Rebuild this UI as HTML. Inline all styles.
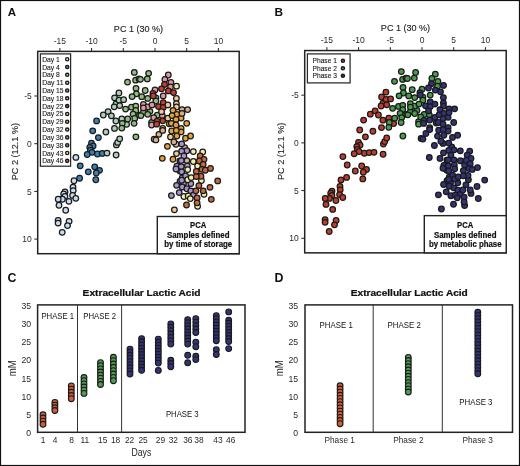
<!DOCTYPE html>
<html><head><meta charset="utf-8"><style>
html,body{margin:0;padding:0;background:#fff;}
svg{display:block;will-change:transform;}
</style></head><body>
<svg width="520" height="466" viewBox="0 0 520 466">
<rect width="520" height="466" fill="#fff"/>
<rect x="0.5" y="0.5" width="519" height="465" fill="none" stroke="#111" stroke-width="1.2"/>
<text x="7.8" y="16.2" font-family="Liberation Sans, sans-serif" font-size="11.5" font-weight="700" fill="#111">A</text>
<text x="274.6" y="16.3" font-family="Liberation Sans, sans-serif" font-size="11.8" font-weight="700" fill="#111">B</text>
<text x="7.4" y="281.5" font-family="Liberation Sans, sans-serif" font-size="12.4" font-weight="700" fill="#111">C</text>
<text x="274.4" y="281.5" font-family="Liberation Sans, sans-serif" font-size="12.4" font-weight="700" fill="#111">D</text>
<g transform="translate(0,0)">
<rect x="37.7" y="51.4" width="201.5" height="202.29999999999998" fill="none" stroke="#222" stroke-width="1.5"/>
<line x1="59.90" y1="48.0" x2="59.90" y2="51.4" stroke="#222" stroke-width="1"/>
<text transform="translate(59.90,44.20) scale(1,1.1)" text-anchor="middle" font-family="Liberation Sans, sans-serif" font-size="8.5" fill="#2a2a2a" >-15</text>
<line x1="91.60" y1="48.0" x2="91.60" y2="51.4" stroke="#222" stroke-width="1"/>
<text transform="translate(91.60,44.20) scale(1,1.1)" text-anchor="middle" font-family="Liberation Sans, sans-serif" font-size="8.5" fill="#2a2a2a" >-10</text>
<line x1="123.30" y1="48.0" x2="123.30" y2="51.4" stroke="#222" stroke-width="1"/>
<text transform="translate(123.30,44.20) scale(1,1.1)" text-anchor="middle" font-family="Liberation Sans, sans-serif" font-size="8.5" fill="#2a2a2a" >-5</text>
<line x1="155.00" y1="48.0" x2="155.00" y2="51.4" stroke="#222" stroke-width="1"/>
<text transform="translate(155.00,44.20) scale(1,1.1)" text-anchor="middle" font-family="Liberation Sans, sans-serif" font-size="8.5" fill="#2a2a2a" >0</text>
<line x1="186.70" y1="48.0" x2="186.70" y2="51.4" stroke="#222" stroke-width="1"/>
<text transform="translate(186.70,44.20) scale(1,1.1)" text-anchor="middle" font-family="Liberation Sans, sans-serif" font-size="8.5" fill="#2a2a2a" >5</text>
<line x1="218.40" y1="48.0" x2="218.40" y2="51.4" stroke="#222" stroke-width="1"/>
<text transform="translate(218.40,44.20) scale(1,1.1)" text-anchor="middle" font-family="Liberation Sans, sans-serif" font-size="8.5" fill="#2a2a2a" >10</text>
<text x="138.5" y="31.7" text-anchor="middle" font-family="Liberation Sans, sans-serif" font-size="9.3" textLength="49.3" lengthAdjust="spacingAndGlyphs" fill="#222" stroke="#222" stroke-width="0.12">PC 1 (30 %)</text>
<line x1="34.300000000000004" y1="96.00" x2="37.7" y2="96.00" stroke="#222" stroke-width="1"/>
<text transform="translate(31.80,99.10) scale(1,1.08)" text-anchor="end" font-family="Liberation Sans, sans-serif" font-size="8.5" fill="#2a2a2a" >-5</text>
<line x1="34.300000000000004" y1="143.70" x2="37.7" y2="143.70" stroke="#222" stroke-width="1"/>
<text transform="translate(31.80,146.80) scale(1,1.08)" text-anchor="end" font-family="Liberation Sans, sans-serif" font-size="8.5" fill="#2a2a2a" >0</text>
<line x1="34.300000000000004" y1="191.40" x2="37.7" y2="191.40" stroke="#222" stroke-width="1"/>
<text transform="translate(31.80,194.50) scale(1,1.08)" text-anchor="end" font-family="Liberation Sans, sans-serif" font-size="8.5" fill="#2a2a2a" >5</text>
<line x1="34.300000000000004" y1="239.10" x2="37.7" y2="239.10" stroke="#222" stroke-width="1"/>
<text transform="translate(31.80,242.20) scale(1,1.08)" text-anchor="end" font-family="Liberation Sans, sans-serif" font-size="8.5" fill="#2a2a2a" >10</text>
<text transform="translate(18.2,151.6) rotate(-90)" text-anchor="middle" font-family="Liberation Sans, sans-serif" font-size="9.3" textLength="57.5" lengthAdjust="spacingAndGlyphs" fill="#222" stroke="#222" stroke-width="0.12">PC 2 (12.1 %)</text>
<rect x="157.3" y="216.5" width="81.89999999999998" height="37.19999999999999" fill="#fff" stroke="#222" stroke-width="1.4"/>
<text transform="translate(190.10,228.30) scale(1,1.08)" font-family="Liberation Sans, sans-serif" font-size="8.2" font-weight="700" textLength="16.3" lengthAdjust="spacingAndGlyphs" fill="#111" stroke="#111" stroke-width="0.2">PCA</text>
<text transform="translate(166.95,237.80) scale(1,1.08)" font-family="Liberation Sans, sans-serif" font-size="8.2" font-weight="700" textLength="62.6" lengthAdjust="spacingAndGlyphs" fill="#111" stroke="#111" stroke-width="0.2">Samples defined</text>
<text transform="translate(164.25,247.30) scale(1,1.08)" font-family="Liberation Sans, sans-serif" font-size="8.2" font-weight="700" textLength="68.0" lengthAdjust="spacingAndGlyphs" fill="#111" stroke="#111" stroke-width="0.2">by time of storage</text>
</g>
<g transform="translate(0,-0.85)">
<rect x="304.7" y="51.4" width="201.5" height="202.29999999999998" fill="none" stroke="#222" stroke-width="1.5"/>
<line x1="326.90" y1="48.0" x2="326.90" y2="51.4" stroke="#222" stroke-width="1"/>
<text transform="translate(326.90,44.20) scale(1,1.1)" text-anchor="middle" font-family="Liberation Sans, sans-serif" font-size="8.5" fill="#2a2a2a" >-15</text>
<line x1="358.60" y1="48.0" x2="358.60" y2="51.4" stroke="#222" stroke-width="1"/>
<text transform="translate(358.60,44.20) scale(1,1.1)" text-anchor="middle" font-family="Liberation Sans, sans-serif" font-size="8.5" fill="#2a2a2a" >-10</text>
<line x1="390.30" y1="48.0" x2="390.30" y2="51.4" stroke="#222" stroke-width="1"/>
<text transform="translate(390.30,44.20) scale(1,1.1)" text-anchor="middle" font-family="Liberation Sans, sans-serif" font-size="8.5" fill="#2a2a2a" >-5</text>
<line x1="422.00" y1="48.0" x2="422.00" y2="51.4" stroke="#222" stroke-width="1"/>
<text transform="translate(422.00,44.20) scale(1,1.1)" text-anchor="middle" font-family="Liberation Sans, sans-serif" font-size="8.5" fill="#2a2a2a" >0</text>
<line x1="453.70" y1="48.0" x2="453.70" y2="51.4" stroke="#222" stroke-width="1"/>
<text transform="translate(453.70,44.20) scale(1,1.1)" text-anchor="middle" font-family="Liberation Sans, sans-serif" font-size="8.5" fill="#2a2a2a" >5</text>
<line x1="485.40" y1="48.0" x2="485.40" y2="51.4" stroke="#222" stroke-width="1"/>
<text transform="translate(485.40,44.20) scale(1,1.1)" text-anchor="middle" font-family="Liberation Sans, sans-serif" font-size="8.5" fill="#2a2a2a" >10</text>
<text x="405.5" y="31.7" text-anchor="middle" font-family="Liberation Sans, sans-serif" font-size="9.3" textLength="49.3" lengthAdjust="spacingAndGlyphs" fill="#222" stroke="#222" stroke-width="0.12">PC 1 (30 %)</text>
<line x1="301.3" y1="96.00" x2="304.7" y2="96.00" stroke="#222" stroke-width="1"/>
<text transform="translate(298.80,99.10) scale(1,1.08)" text-anchor="end" font-family="Liberation Sans, sans-serif" font-size="8.5" fill="#2a2a2a" >-5</text>
<line x1="301.3" y1="143.70" x2="304.7" y2="143.70" stroke="#222" stroke-width="1"/>
<text transform="translate(298.80,146.80) scale(1,1.08)" text-anchor="end" font-family="Liberation Sans, sans-serif" font-size="8.5" fill="#2a2a2a" >0</text>
<line x1="301.3" y1="191.40" x2="304.7" y2="191.40" stroke="#222" stroke-width="1"/>
<text transform="translate(298.80,194.50) scale(1,1.08)" text-anchor="end" font-family="Liberation Sans, sans-serif" font-size="8.5" fill="#2a2a2a" >5</text>
<line x1="301.3" y1="239.10" x2="304.7" y2="239.10" stroke="#222" stroke-width="1"/>
<text transform="translate(298.80,242.20) scale(1,1.08)" text-anchor="end" font-family="Liberation Sans, sans-serif" font-size="8.5" fill="#2a2a2a" >10</text>
<text transform="translate(284.0,152.2) rotate(-90)" text-anchor="middle" font-family="Liberation Sans, sans-serif" font-size="9.3" textLength="57.5" lengthAdjust="spacingAndGlyphs" fill="#222" stroke="#222" stroke-width="0.12">PC 2 (12.1 %)</text>
<rect x="424.3" y="216.5" width="81.89999999999998" height="37.19999999999999" fill="#fff" stroke="#222" stroke-width="1.4"/>
<text transform="translate(457.10,228.90) scale(1,1.08)" font-family="Liberation Sans, sans-serif" font-size="8.2" font-weight="700" textLength="16.3" lengthAdjust="spacingAndGlyphs" fill="#111" stroke="#111" stroke-width="0.2">PCA</text>
<text transform="translate(433.95,238.40) scale(1,1.08)" font-family="Liberation Sans, sans-serif" font-size="8.2" font-weight="700" textLength="62.6" lengthAdjust="spacingAndGlyphs" fill="#111" stroke="#111" stroke-width="0.2">Samples defined</text>
<text transform="translate(428.90,247.90) scale(1,1.08)" font-family="Liberation Sans, sans-serif" font-size="8.2" font-weight="700" textLength="72.7" lengthAdjust="spacingAndGlyphs" fill="#111" stroke="#111" stroke-width="0.2">by metabolic phase</text>
</g>
<rect x="37.6" y="304.9" width="207.4" height="127.40000000000003" fill="none" stroke="#222" stroke-width="1.5"/>
<text transform="translate(31.20,436.10) scale(1,1.08)" text-anchor="end" font-family="Liberation Sans, sans-serif" font-size="8.7" fill="#2a2a2a" >0</text>
<text transform="translate(31.20,417.93) scale(1,1.08)" text-anchor="end" font-family="Liberation Sans, sans-serif" font-size="8.7" fill="#2a2a2a" >5</text>
<text transform="translate(31.20,399.76) scale(1,1.08)" text-anchor="end" font-family="Liberation Sans, sans-serif" font-size="8.7" fill="#2a2a2a" >10</text>
<text transform="translate(31.20,381.59) scale(1,1.08)" text-anchor="end" font-family="Liberation Sans, sans-serif" font-size="8.7" fill="#2a2a2a" >15</text>
<text transform="translate(31.20,363.42) scale(1,1.08)" text-anchor="end" font-family="Liberation Sans, sans-serif" font-size="8.7" fill="#2a2a2a" >20</text>
<text transform="translate(31.20,345.25) scale(1,1.08)" text-anchor="end" font-family="Liberation Sans, sans-serif" font-size="8.7" fill="#2a2a2a" >25</text>
<text transform="translate(31.20,327.08) scale(1,1.08)" text-anchor="end" font-family="Liberation Sans, sans-serif" font-size="8.7" fill="#2a2a2a" >30</text>
<text transform="translate(31.20,308.91) scale(1,1.08)" text-anchor="end" font-family="Liberation Sans, sans-serif" font-size="8.7" fill="#2a2a2a" >35</text>
<text x="82.6" y="295.8" font-family="Liberation Sans, sans-serif" font-size="9.4" font-weight="700" textLength="118" lengthAdjust="spacingAndGlyphs" fill="#111" stroke="#111" stroke-width="0.22">Extracellular Lactic Acid</text>
<text transform="translate(16.0,368.3) rotate(-90) scale(1.05,1.12)" text-anchor="middle" font-family="Liberation Sans, sans-serif" font-size="9.2" fill="#222">mM</text>
<rect x="305.0" y="304.9" width="207.5" height="127.40000000000003" fill="none" stroke="#222" stroke-width="1.5"/>
<text transform="translate(298.20,436.10) scale(1,1.08)" text-anchor="end" font-family="Liberation Sans, sans-serif" font-size="8.7" fill="#2a2a2a" >0</text>
<text transform="translate(298.20,417.93) scale(1,1.08)" text-anchor="end" font-family="Liberation Sans, sans-serif" font-size="8.7" fill="#2a2a2a" >5</text>
<text transform="translate(298.20,399.76) scale(1,1.08)" text-anchor="end" font-family="Liberation Sans, sans-serif" font-size="8.7" fill="#2a2a2a" >10</text>
<text transform="translate(298.20,381.59) scale(1,1.08)" text-anchor="end" font-family="Liberation Sans, sans-serif" font-size="8.7" fill="#2a2a2a" >15</text>
<text transform="translate(298.20,363.42) scale(1,1.08)" text-anchor="end" font-family="Liberation Sans, sans-serif" font-size="8.7" fill="#2a2a2a" >20</text>
<text transform="translate(298.20,345.25) scale(1,1.08)" text-anchor="end" font-family="Liberation Sans, sans-serif" font-size="8.7" fill="#2a2a2a" >25</text>
<text transform="translate(298.20,327.08) scale(1,1.08)" text-anchor="end" font-family="Liberation Sans, sans-serif" font-size="8.7" fill="#2a2a2a" >30</text>
<text transform="translate(298.20,308.91) scale(1,1.08)" text-anchor="end" font-family="Liberation Sans, sans-serif" font-size="8.7" fill="#2a2a2a" >35</text>
<text x="350.8" y="295.8" font-family="Liberation Sans, sans-serif" font-size="9.4" font-weight="700" textLength="117" lengthAdjust="spacingAndGlyphs" fill="#111" stroke="#111" stroke-width="0.22">Extracellular Lactic Acid</text>
<text transform="translate(283.0,368.3) rotate(-90) scale(1.05,1.12)" text-anchor="middle" font-family="Liberation Sans, sans-serif" font-size="9.2" fill="#222">mM</text>
<line x1="77.5" y1="304.9" x2="77.5" y2="432.3" stroke="#333" stroke-width="1"/>
<line x1="121.6" y1="304.9" x2="121.6" y2="432.3" stroke="#333" stroke-width="1"/>
<text x="57.8" y="319.2" text-anchor="middle" font-family="Liberation Sans, sans-serif" font-size="8.3" textLength="32.8" lengthAdjust="spacingAndGlyphs" fill="#111">PHASE 1</text>
<text x="99.7" y="319.2" text-anchor="middle" font-family="Liberation Sans, sans-serif" font-size="8.3" textLength="32.8" lengthAdjust="spacingAndGlyphs" fill="#111">PHASE 2</text>
<text x="182.3" y="416.6" text-anchor="middle" font-family="Liberation Sans, sans-serif" font-size="8.3" textLength="32.8" lengthAdjust="spacingAndGlyphs" fill="#111">PHASE 3</text>
<text transform="translate(43.20,443.00) scale(1,1.1)" text-anchor="middle" font-family="Liberation Sans, sans-serif" font-size="8.4" fill="#2a2a2a" >1</text>
<text transform="translate(55.20,443.00) scale(1,1.1)" text-anchor="middle" font-family="Liberation Sans, sans-serif" font-size="8.4" fill="#2a2a2a" >4</text>
<text transform="translate(71.70,443.00) scale(1,1.1)" text-anchor="middle" font-family="Liberation Sans, sans-serif" font-size="8.4" fill="#2a2a2a" >8</text>
<text transform="translate(84.80,443.00) scale(1,1.1)" text-anchor="middle" font-family="Liberation Sans, sans-serif" font-size="8.4" fill="#2a2a2a" >11</text>
<text transform="translate(102.70,443.00) scale(1,1.1)" text-anchor="middle" font-family="Liberation Sans, sans-serif" font-size="8.4" fill="#2a2a2a" >15</text>
<text transform="translate(115.60,443.00) scale(1,1.1)" text-anchor="middle" font-family="Liberation Sans, sans-serif" font-size="8.4" fill="#2a2a2a" >18</text>
<text transform="translate(129.60,443.00) scale(1,1.1)" text-anchor="middle" font-family="Liberation Sans, sans-serif" font-size="8.4" fill="#2a2a2a" >22</text>
<text transform="translate(143.10,443.00) scale(1,1.1)" text-anchor="middle" font-family="Liberation Sans, sans-serif" font-size="8.4" fill="#2a2a2a" >25</text>
<text transform="translate(160.40,443.00) scale(1,1.1)" text-anchor="middle" font-family="Liberation Sans, sans-serif" font-size="8.4" fill="#2a2a2a" >29</text>
<text transform="translate(173.30,443.00) scale(1,1.1)" text-anchor="middle" font-family="Liberation Sans, sans-serif" font-size="8.4" fill="#2a2a2a" >32</text>
<text transform="translate(187.80,443.00) scale(1,1.1)" text-anchor="middle" font-family="Liberation Sans, sans-serif" font-size="8.4" fill="#2a2a2a" >36</text>
<text transform="translate(199.00,443.00) scale(1,1.1)" text-anchor="middle" font-family="Liberation Sans, sans-serif" font-size="8.4" fill="#2a2a2a" >38</text>
<text transform="translate(218.00,443.00) scale(1,1.1)" text-anchor="middle" font-family="Liberation Sans, sans-serif" font-size="8.4" fill="#2a2a2a" >43</text>
<text transform="translate(230.70,443.00) scale(1,1.1)" text-anchor="middle" font-family="Liberation Sans, sans-serif" font-size="8.4" fill="#2a2a2a" >46</text>
<text transform="translate(141.40,456.40) scale(1,1.17)" text-anchor="middle" font-family="Liberation Sans, sans-serif" font-size="8.7" fill="#222" >Days</text>
<line x1="373.2" y1="304.9" x2="373.2" y2="432.3" stroke="#333" stroke-width="1"/>
<line x1="442.3" y1="304.9" x2="442.3" y2="432.3" stroke="#333" stroke-width="1"/>
<text x="336.2" y="328.2" text-anchor="middle" font-family="Liberation Sans, sans-serif" font-size="8.3" textLength="33.2" lengthAdjust="spacingAndGlyphs" fill="#111">PHASE 1</text>
<text x="404.2" y="328.2" text-anchor="middle" font-family="Liberation Sans, sans-serif" font-size="8.3" textLength="33.2" lengthAdjust="spacingAndGlyphs" fill="#111">PHASE 2</text>
<text x="475.9" y="404.5" text-anchor="middle" font-family="Liberation Sans, sans-serif" font-size="8.3" textLength="33.2" lengthAdjust="spacingAndGlyphs" fill="#111">PHASE 3</text>
<text transform="translate(339.70,442.90) scale(1,1.1)" text-anchor="middle" font-family="Liberation Sans, sans-serif" font-size="8.3" fill="#2a2a2a" >Phase 1</text>
<text transform="translate(408.40,442.90) scale(1,1.1)" text-anchor="middle" font-family="Liberation Sans, sans-serif" font-size="8.3" fill="#2a2a2a" >Phase 2</text>
<text transform="translate(477.60,442.90) scale(1,1.1)" text-anchor="middle" font-family="Liberation Sans, sans-serif" font-size="8.3" fill="#2a2a2a" >Phase 3</text>
<g stroke="#1a1a1a" stroke-width="1.25">
<circle cx="74.0" cy="180.7" r="2.8" fill="#cadcf0"/>
<circle cx="73.0" cy="187.2" r="2.8" fill="#cadcf0"/>
<circle cx="73.2" cy="190.6" r="2.8" fill="#cadcf0"/>
<circle cx="65.0" cy="191.9" r="2.8" fill="#cadcf0"/>
<circle cx="63.7" cy="194.0" r="2.8" fill="#cadcf0"/>
<circle cx="72.6" cy="195.4" r="2.8" fill="#cadcf0"/>
<circle cx="75.8" cy="198.3" r="2.8" fill="#cadcf0"/>
<circle cx="64.9" cy="196.3" r="2.8" fill="#cadcf0"/>
<circle cx="62.4" cy="199.2" r="2.8" fill="#cadcf0"/>
<circle cx="58.2" cy="199.2" r="2.8" fill="#cadcf0"/>
<circle cx="68.9" cy="201.3" r="2.8" fill="#cadcf0"/>
<circle cx="59.0" cy="205.2" r="2.8" fill="#cadcf0"/>
<circle cx="65.7" cy="210.2" r="2.8" fill="#cadcf0"/>
<circle cx="58.1" cy="220.5" r="2.8" fill="#cadcf0"/>
<circle cx="58.1" cy="223.1" r="2.8" fill="#cadcf0"/>
<circle cx="69.1" cy="221.3" r="2.8" fill="#cadcf0"/>
<circle cx="67.5" cy="225.6" r="2.8" fill="#cadcf0"/>
<circle cx="62.2" cy="232.3" r="2.8" fill="#cadcf0"/>
<circle cx="75.9" cy="157.4" r="2.8" fill="#cadcf0"/>
<circle cx="79.6" cy="178.2" r="2.8" fill="#3b82b4"/>
<circle cx="88.3" cy="171.8" r="2.8" fill="#3b82b4"/>
<circle cx="91.5" cy="143.2" r="2.8" fill="#3b82b4"/>
<circle cx="93.1" cy="145.9" r="2.8" fill="#3b82b4"/>
<circle cx="89.8" cy="147.5" r="2.8" fill="#3b82b4"/>
<circle cx="90.4" cy="150.2" r="2.8" fill="#3b82b4"/>
<circle cx="92.0" cy="152.3" r="2.8" fill="#3b82b4"/>
<circle cx="87.2" cy="154.5" r="2.8" fill="#3b82b4"/>
<circle cx="97.4" cy="154.0" r="2.8" fill="#3b82b4"/>
<circle cx="102.2" cy="153.4" r="2.8" fill="#3b82b4"/>
<circle cx="80.2" cy="165.8" r="2.8" fill="#3b82b4"/>
<circle cx="94.7" cy="166.8" r="2.8" fill="#3b82b4"/>
<circle cx="99.5" cy="170.3" r="2.8" fill="#3b82b4"/>
<circle cx="96.3" cy="173.0" r="2.8" fill="#3b82b4"/>
<circle cx="95.8" cy="179.7" r="2.8" fill="#3b82b4"/>
<circle cx="96.6" cy="120.9" r="2.8" fill="#3b82b4"/>
<circle cx="92.7" cy="130.8" r="2.8" fill="#3b82b4"/>
<circle cx="98.4" cy="137.6" r="2.8" fill="#3b82b4"/>
<circle cx="107.0" cy="153.1" r="2.8" fill="#acceb6"/>
<circle cx="116.1" cy="155.0" r="2.8" fill="#acceb6"/>
<circle cx="116.4" cy="144.9" r="2.8" fill="#acceb6"/>
<circle cx="103.3" cy="115.0" r="2.8" fill="#acceb6"/>
<circle cx="108.1" cy="111.6" r="2.8" fill="#acceb6"/>
<circle cx="111.4" cy="115.8" r="2.8" fill="#acceb6"/>
<circle cx="115.9" cy="121.0" r="2.8" fill="#acceb6"/>
<circle cx="105.9" cy="132.0" r="2.8" fill="#acceb6"/>
<circle cx="114.5" cy="128.4" r="2.8" fill="#acceb6"/>
<circle cx="116.0" cy="104.0" r="2.8" fill="#acceb6"/>
<circle cx="114.2" cy="106.8" r="2.8" fill="#acceb6"/>
<circle cx="117.7" cy="142.4" r="2.8" fill="#acceb6"/>
<circle cx="118.9" cy="93.0" r="2.8" fill="#acceb6"/>
<circle cx="114.6" cy="97.8" r="2.8" fill="#acceb6"/>
<circle cx="119.1" cy="100.2" r="2.8" fill="#acceb6"/>
<circle cx="123.6" cy="99.7" r="2.8" fill="#acceb6"/>
<circle cx="119.7" cy="105.6" r="2.8" fill="#acceb6"/>
<circle cx="119.7" cy="138.8" r="2.8" fill="#acceb6"/>
<circle cx="121.8" cy="119.0" r="2.8" fill="#acceb6"/>
<circle cx="126.6" cy="124.3" r="2.8" fill="#acceb6"/>
<circle cx="134.3" cy="72.4" r="2.8" fill="#92bc82"/>
<circle cx="127.5" cy="82.1" r="2.8" fill="#92bc82"/>
<circle cx="135.6" cy="80.2" r="2.8" fill="#92bc82"/>
<circle cx="139.0" cy="78.9" r="2.8" fill="#92bc82"/>
<circle cx="136.0" cy="88.3" r="2.8" fill="#92bc82"/>
<circle cx="136.4" cy="93.8" r="2.8" fill="#92bc82"/>
<circle cx="132.1" cy="96.6" r="2.8" fill="#92bc82"/>
<circle cx="125.6" cy="109.1" r="2.8" fill="#92bc82"/>
<circle cx="131.5" cy="107.2" r="2.8" fill="#92bc82"/>
<circle cx="135.8" cy="106.1" r="2.8" fill="#92bc82"/>
<circle cx="135.8" cy="110.4" r="2.8" fill="#92bc82"/>
<circle cx="133.1" cy="114.1" r="2.8" fill="#92bc82"/>
<circle cx="139.5" cy="115.2" r="2.8" fill="#92bc82"/>
<circle cx="134.7" cy="118.4" r="2.8" fill="#92bc82"/>
<circle cx="127.7" cy="119.0" r="2.8" fill="#92bc82"/>
<circle cx="122.3" cy="123.3" r="2.8" fill="#92bc82"/>
<circle cx="134.1" cy="123.3" r="2.8" fill="#92bc82"/>
<circle cx="121.8" cy="128.1" r="2.8" fill="#92bc82"/>
<circle cx="135.9" cy="136.8" r="2.8" fill="#92bc82"/>
<circle cx="148.6" cy="73.3" r="2.8" fill="#92bc82"/>
<circle cx="147.3" cy="78.9" r="2.8" fill="#92bc82"/>
<circle cx="140.4" cy="79.3" r="2.8" fill="#92bc82"/>
<circle cx="145.2" cy="90.5" r="2.8" fill="#92bc82"/>
<circle cx="141.7" cy="96.7" r="2.8" fill="#92bc82"/>
<circle cx="147.7" cy="98.4" r="2.8" fill="#92bc82"/>
<circle cx="155.9" cy="98.0" r="2.8" fill="#92bc82"/>
<circle cx="155.9" cy="101.0" r="2.8" fill="#92bc82"/>
<circle cx="149.9" cy="111.3" r="2.8" fill="#92bc82"/>
<circle cx="143.4" cy="112.2" r="2.8" fill="#92bc82"/>
<circle cx="147.7" cy="114.3" r="2.8" fill="#92bc82"/>
<circle cx="140.9" cy="115.6" r="2.8" fill="#92bc82"/>
<circle cx="157.2" cy="115.2" r="2.8" fill="#92bc82"/>
<circle cx="151.6" cy="122.5" r="2.8" fill="#92bc82"/>
<circle cx="168.3" cy="75.0" r="2.8" fill="#de98a4"/>
<circle cx="164.9" cy="79.3" r="2.8" fill="#de98a4"/>
<circle cx="170.9" cy="82.3" r="2.8" fill="#de98a4"/>
<circle cx="170.5" cy="87.0" r="2.8" fill="#de98a4"/>
<circle cx="155.0" cy="90.0" r="2.8" fill="#de98a4"/>
<circle cx="163.2" cy="95.9" r="2.8" fill="#de98a4"/>
<circle cx="143.4" cy="104.4" r="2.8" fill="#de98a4"/>
<circle cx="147.7" cy="107.0" r="2.8" fill="#de98a4"/>
<circle cx="152.0" cy="104.9" r="2.8" fill="#de98a4"/>
<circle cx="143.4" cy="107.9" r="2.8" fill="#de98a4"/>
<circle cx="162.3" cy="115.6" r="2.8" fill="#de98a4"/>
<circle cx="153.7" cy="117.7" r="2.8" fill="#de98a4"/>
<circle cx="151.6" cy="125.0" r="2.8" fill="#de98a4"/>
<circle cx="164.5" cy="84.5" r="2.8" fill="#c63e2e"/>
<circle cx="161.5" cy="88.8" r="2.8" fill="#c63e2e"/>
<circle cx="168.3" cy="90.9" r="2.8" fill="#c63e2e"/>
<circle cx="173.5" cy="92.6" r="2.8" fill="#c63e2e"/>
<circle cx="152.9" cy="93.5" r="2.8" fill="#c63e2e"/>
<circle cx="153.3" cy="95.9" r="2.8" fill="#c63e2e"/>
<circle cx="163.2" cy="102.7" r="2.8" fill="#c63e2e"/>
<circle cx="158.5" cy="106.6" r="2.8" fill="#c63e2e"/>
<circle cx="163.2" cy="107.4" r="2.8" fill="#c63e2e"/>
<circle cx="162.7" cy="120.8" r="2.8" fill="#c63e2e"/>
<circle cx="157.2" cy="121.2" r="2.8" fill="#c63e2e"/>
<circle cx="156.7" cy="124.2" r="2.8" fill="#c63e2e"/>
<circle cx="154.2" cy="139.2" r="2.8" fill="#f0c898"/>
<circle cx="167.9" cy="104.9" r="2.8" fill="#f0c898"/>
<circle cx="161.5" cy="111.7" r="2.8" fill="#f0c898"/>
<circle cx="167.9" cy="118.2" r="2.8" fill="#f0c898"/>
<circle cx="162.7" cy="128.5" r="2.8" fill="#f0c898"/>
<circle cx="170.5" cy="136.9" r="2.8" fill="#f0c898"/>
<circle cx="176.0" cy="144.2" r="2.8" fill="#f0c898"/>
<circle cx="176.5" cy="153.6" r="2.8" fill="#f0c898"/>
<circle cx="174.4" cy="209.8" r="2.8" fill="#f0c898"/>
<circle cx="176.4" cy="98.4" r="2.8" fill="#f0c898"/>
<circle cx="176.4" cy="103.6" r="2.8" fill="#f0c898"/>
<circle cx="176.5" cy="107.0" r="2.8" fill="#f0c898"/>
<circle cx="169.2" cy="123.8" r="2.8" fill="#e4a23a"/>
<circle cx="176.9" cy="136.0" r="2.8" fill="#e4a23a"/>
<circle cx="185.5" cy="138.2" r="2.8" fill="#e4a23a"/>
<circle cx="190.6" cy="136.0" r="2.8" fill="#e4a23a"/>
<circle cx="167.4" cy="146.3" r="2.8" fill="#e4a23a"/>
<circle cx="162.3" cy="158.3" r="2.8" fill="#e4a23a"/>
<circle cx="173.0" cy="159.2" r="2.8" fill="#e4a23a"/>
<circle cx="173.0" cy="110.4" r="2.8" fill="#e4a23a"/>
<circle cx="176.9" cy="114.3" r="2.8" fill="#e4a23a"/>
<circle cx="172.1" cy="115.6" r="2.8" fill="#e4a23a"/>
<circle cx="181.1" cy="118.1" r="2.8" fill="#e4a23a"/>
<circle cx="176.0" cy="119.4" r="2.8" fill="#e4a23a"/>
<circle cx="186.7" cy="123.3" r="2.8" fill="#e4a23a"/>
<circle cx="171.3" cy="123.3" r="2.8" fill="#e4a23a"/>
<circle cx="176.0" cy="125.0" r="2.8" fill="#e4a23a"/>
<circle cx="181.1" cy="128.4" r="2.8" fill="#e4a23a"/>
<circle cx="171.7" cy="131.0" r="2.8" fill="#e4a23a"/>
<circle cx="181.1" cy="131.9" r="2.8" fill="#e4a23a"/>
<circle cx="176.3" cy="130.4" r="2.8" fill="#e4a23a"/>
<circle cx="158.9" cy="134.3" r="2.8" fill="#d8b08c"/>
<circle cx="155.9" cy="139.9" r="2.8" fill="#d8b08c"/>
<circle cx="162.7" cy="130.4" r="2.8" fill="#d8b08c"/>
<circle cx="173.9" cy="142.0" r="2.8" fill="#d8b08c"/>
<circle cx="184.7" cy="147.7" r="2.8" fill="#d8b08c"/>
<circle cx="186.9" cy="160.6" r="2.8" fill="#d8b08c"/>
<circle cx="182.0" cy="109.6" r="2.8" fill="#d8b08c"/>
<circle cx="187.6" cy="109.6" r="2.8" fill="#d8b08c"/>
<circle cx="182.0" cy="113.4" r="2.8" fill="#d8b08c"/>
<circle cx="179.9" cy="171.1" r="2.8" fill="#a494c8"/>
<circle cx="179.9" cy="160.9" r="2.8" fill="#a494c8"/>
<circle cx="176.9" cy="166.1" r="2.8" fill="#a494c8"/>
<circle cx="176.0" cy="169.0" r="2.8" fill="#a494c8"/>
<circle cx="181.7" cy="143.9" r="2.8" fill="#a494c8"/>
<circle cx="186.9" cy="150.7" r="2.8" fill="#a494c8"/>
<circle cx="181.7" cy="151.2" r="2.8" fill="#a494c8"/>
<circle cx="183.9" cy="155.9" r="2.8" fill="#a494c8"/>
<circle cx="181.3" cy="160.6" r="2.8" fill="#a494c8"/>
<circle cx="187.3" cy="165.8" r="2.8" fill="#a494c8"/>
<circle cx="181.3" cy="166.6" r="2.8" fill="#a494c8"/>
<circle cx="181.7" cy="171.8" r="2.8" fill="#a494c8"/>
<circle cx="182.2" cy="178.0" r="2.8" fill="#a494c8"/>
<circle cx="185.6" cy="175.9" r="2.8" fill="#a494c8"/>
<circle cx="180.0" cy="181.4" r="2.8" fill="#a494c8"/>
<circle cx="176.6" cy="185.3" r="2.8" fill="#a494c8"/>
<circle cx="183.5" cy="183.6" r="2.8" fill="#a494c8"/>
<circle cx="190.8" cy="183.6" r="2.8" fill="#a494c8"/>
<circle cx="182.2" cy="187.0" r="2.8" fill="#a494c8"/>
<circle cx="186.9" cy="188.7" r="2.8" fill="#a494c8"/>
<circle cx="190.8" cy="190.9" r="2.8" fill="#a494c8"/>
<circle cx="179.2" cy="192.6" r="2.8" fill="#a494c8"/>
<circle cx="171.4" cy="195.6" r="2.8" fill="#a494c8"/>
<circle cx="193.3" cy="195.2" r="2.8" fill="#a494c8"/>
<circle cx="181.7" cy="180.2" r="2.8" fill="#a494c8"/>
<circle cx="176.5" cy="86.2" r="2.8" fill="#f2f0a8"/>
<circle cx="187.7" cy="169.6" r="2.8" fill="#f2f0a8"/>
<circle cx="193.3" cy="151.6" r="2.8" fill="#f2f0a8"/>
<circle cx="193.3" cy="161.5" r="2.8" fill="#f2f0a8"/>
<circle cx="202.7" cy="152.0" r="2.8" fill="#f2f0a8"/>
<circle cx="187.7" cy="179.7" r="2.8" fill="#f2f0a8"/>
<circle cx="191.2" cy="177.6" r="2.8" fill="#f2f0a8"/>
<circle cx="183.9" cy="196.5" r="2.8" fill="#f2f0a8"/>
<circle cx="188.2" cy="196.0" r="2.8" fill="#f2f0a8"/>
<circle cx="190.3" cy="198.6" r="2.8" fill="#f2f0a8"/>
<circle cx="197.6" cy="206.3" r="2.8" fill="#f2f0a8"/>
<circle cx="201.4" cy="180.5" r="2.8" fill="#f2f0a8"/>
<circle cx="204.0" cy="194.2" r="2.8" fill="#f2f0a8"/>
<circle cx="197.6" cy="165.9" r="2.8" fill="#f2f0a8"/>
<circle cx="200.2" cy="155.9" r="2.8" fill="#c46a40"/>
<circle cx="204.0" cy="159.3" r="2.8" fill="#c46a40"/>
<circle cx="199.3" cy="161.0" r="2.8" fill="#c46a40"/>
<circle cx="203.2" cy="164.5" r="2.8" fill="#c46a40"/>
<circle cx="186.5" cy="205.0" r="2.8" fill="#c46a40"/>
<circle cx="201.9" cy="169.3" r="2.8" fill="#c46a40"/>
<circle cx="205.3" cy="170.2" r="2.8" fill="#c46a40"/>
<circle cx="210.5" cy="168.4" r="2.8" fill="#c46a40"/>
<circle cx="196.3" cy="171.4" r="2.8" fill="#c46a40"/>
<circle cx="201.0" cy="176.2" r="2.8" fill="#c46a40"/>
<circle cx="196.3" cy="176.6" r="2.8" fill="#c46a40"/>
<circle cx="217.7" cy="180.9" r="2.8" fill="#c46a40"/>
<circle cx="198.9" cy="185.6" r="2.8" fill="#c46a40"/>
<circle cx="210.0" cy="187.3" r="2.8" fill="#c46a40"/>
<circle cx="195.9" cy="190.8" r="2.8" fill="#c46a40"/>
<circle cx="203.2" cy="190.8" r="2.8" fill="#c46a40"/>
<circle cx="197.1" cy="198.0" r="2.8" fill="#c46a40"/>
<circle cx="211.3" cy="199.3" r="2.8" fill="#c46a40"/>
<circle cx="197.1" cy="202.8" r="2.8" fill="#c46a40"/>
<circle cx="341.0" cy="179.9" r="2.8" fill="#bf3d2a"/>
<circle cx="340.0" cy="186.4" r="2.8" fill="#bf3d2a"/>
<circle cx="340.2" cy="189.8" r="2.8" fill="#bf3d2a"/>
<circle cx="332.0" cy="191.1" r="2.8" fill="#bf3d2a"/>
<circle cx="330.7" cy="193.2" r="2.8" fill="#bf3d2a"/>
<circle cx="339.6" cy="194.6" r="2.8" fill="#bf3d2a"/>
<circle cx="342.8" cy="197.5" r="2.8" fill="#bf3d2a"/>
<circle cx="331.9" cy="195.5" r="2.8" fill="#bf3d2a"/>
<circle cx="329.4" cy="198.4" r="2.8" fill="#bf3d2a"/>
<circle cx="325.2" cy="198.4" r="2.8" fill="#bf3d2a"/>
<circle cx="335.9" cy="200.5" r="2.8" fill="#bf3d2a"/>
<circle cx="326.0" cy="204.4" r="2.8" fill="#bf3d2a"/>
<circle cx="332.7" cy="209.4" r="2.8" fill="#bf3d2a"/>
<circle cx="325.1" cy="219.7" r="2.8" fill="#bf3d2a"/>
<circle cx="325.1" cy="222.3" r="2.8" fill="#bf3d2a"/>
<circle cx="336.1" cy="220.5" r="2.8" fill="#bf3d2a"/>
<circle cx="334.5" cy="224.8" r="2.8" fill="#bf3d2a"/>
<circle cx="329.2" cy="231.5" r="2.8" fill="#bf3d2a"/>
<circle cx="342.9" cy="156.6" r="2.8" fill="#bf3d2a"/>
<circle cx="346.6" cy="177.4" r="2.8" fill="#bf3d2a"/>
<circle cx="355.3" cy="171.0" r="2.8" fill="#bf3d2a"/>
<circle cx="358.5" cy="142.4" r="2.8" fill="#bf3d2a"/>
<circle cx="360.1" cy="145.1" r="2.8" fill="#bf3d2a"/>
<circle cx="356.8" cy="146.7" r="2.8" fill="#bf3d2a"/>
<circle cx="357.4" cy="149.4" r="2.8" fill="#bf3d2a"/>
<circle cx="359.0" cy="151.5" r="2.8" fill="#bf3d2a"/>
<circle cx="354.2" cy="153.7" r="2.8" fill="#bf3d2a"/>
<circle cx="364.4" cy="153.2" r="2.8" fill="#bf3d2a"/>
<circle cx="369.2" cy="152.6" r="2.8" fill="#bf3d2a"/>
<circle cx="347.2" cy="165.0" r="2.8" fill="#bf3d2a"/>
<circle cx="361.7" cy="166.0" r="2.8" fill="#bf3d2a"/>
<circle cx="366.5" cy="169.5" r="2.8" fill="#bf3d2a"/>
<circle cx="363.3" cy="172.2" r="2.8" fill="#bf3d2a"/>
<circle cx="362.8" cy="178.9" r="2.8" fill="#bf3d2a"/>
<circle cx="363.6" cy="120.1" r="2.8" fill="#bf3d2a"/>
<circle cx="359.7" cy="130.0" r="2.8" fill="#bf3d2a"/>
<circle cx="365.4" cy="136.8" r="2.8" fill="#bf3d2a"/>
<circle cx="374.0" cy="152.3" r="2.8" fill="#bf3d2a"/>
<circle cx="383.1" cy="154.2" r="2.8" fill="#bf3d2a"/>
<circle cx="383.4" cy="144.1" r="2.8" fill="#bf3d2a"/>
<circle cx="370.3" cy="114.2" r="2.8" fill="#bf3d2a"/>
<circle cx="375.1" cy="110.8" r="2.8" fill="#bf3d2a"/>
<circle cx="378.4" cy="115.0" r="2.8" fill="#bf3d2a"/>
<circle cx="382.9" cy="120.2" r="2.8" fill="#bf3d2a"/>
<circle cx="372.9" cy="131.2" r="2.8" fill="#bf3d2a"/>
<circle cx="381.5" cy="127.6" r="2.8" fill="#bf3d2a"/>
<circle cx="383.0" cy="103.2" r="2.8" fill="#bf3d2a"/>
<circle cx="381.1" cy="106.0" r="2.8" fill="#bf3d2a"/>
<circle cx="384.7" cy="141.6" r="2.8" fill="#bf3d2a"/>
<circle cx="385.9" cy="92.2" r="2.8" fill="#bf3d2a"/>
<circle cx="381.6" cy="97.0" r="2.8" fill="#bf3d2a"/>
<circle cx="386.1" cy="99.4" r="2.8" fill="#bf3d2a"/>
<circle cx="390.6" cy="98.9" r="2.8" fill="#bf3d2a"/>
<circle cx="386.7" cy="104.8" r="2.8" fill="#bf3d2a"/>
<circle cx="386.7" cy="138.0" r="2.8" fill="#bf3d2a"/>
<circle cx="388.8" cy="118.2" r="2.8" fill="#bf3d2a"/>
<circle cx="393.6" cy="123.5" r="2.8" fill="#bf3d2a"/>
<circle cx="401.3" cy="71.6" r="2.8" fill="#4a9c4c"/>
<circle cx="394.5" cy="81.3" r="2.8" fill="#4a9c4c"/>
<circle cx="402.6" cy="79.4" r="2.8" fill="#4a9c4c"/>
<circle cx="406.0" cy="78.1" r="2.8" fill="#4a9c4c"/>
<circle cx="403.0" cy="87.5" r="2.8" fill="#4a9c4c"/>
<circle cx="403.4" cy="93.0" r="2.8" fill="#4a9c4c"/>
<circle cx="399.1" cy="95.8" r="2.8" fill="#4a9c4c"/>
<circle cx="392.6" cy="108.3" r="2.8" fill="#4a9c4c"/>
<circle cx="398.5" cy="106.4" r="2.8" fill="#4a9c4c"/>
<circle cx="402.8" cy="105.3" r="2.8" fill="#4a9c4c"/>
<circle cx="402.8" cy="109.6" r="2.8" fill="#4a9c4c"/>
<circle cx="400.1" cy="113.3" r="2.8" fill="#4a9c4c"/>
<circle cx="406.5" cy="114.4" r="2.8" fill="#4a9c4c"/>
<circle cx="401.7" cy="117.6" r="2.8" fill="#4a9c4c"/>
<circle cx="394.7" cy="118.2" r="2.8" fill="#4a9c4c"/>
<circle cx="389.3" cy="122.5" r="2.8" fill="#4a9c4c"/>
<circle cx="401.1" cy="122.5" r="2.8" fill="#4a9c4c"/>
<circle cx="388.8" cy="127.3" r="2.8" fill="#4a9c4c"/>
<circle cx="402.9" cy="136.0" r="2.8" fill="#4a9c4c"/>
<circle cx="415.6" cy="72.5" r="2.8" fill="#4a9c4c"/>
<circle cx="414.3" cy="78.1" r="2.8" fill="#4a9c4c"/>
<circle cx="407.4" cy="78.5" r="2.8" fill="#4a9c4c"/>
<circle cx="412.2" cy="89.7" r="2.8" fill="#4a9c4c"/>
<circle cx="408.7" cy="95.9" r="2.8" fill="#4a9c4c"/>
<circle cx="414.7" cy="97.6" r="2.8" fill="#4a9c4c"/>
<circle cx="422.9" cy="97.2" r="2.8" fill="#4a9c4c"/>
<circle cx="422.9" cy="100.2" r="2.8" fill="#4a9c4c"/>
<circle cx="416.9" cy="110.5" r="2.8" fill="#4a9c4c"/>
<circle cx="410.4" cy="111.4" r="2.8" fill="#4a9c4c"/>
<circle cx="414.7" cy="113.5" r="2.8" fill="#4a9c4c"/>
<circle cx="407.9" cy="114.8" r="2.8" fill="#4a9c4c"/>
<circle cx="424.2" cy="114.4" r="2.8" fill="#4a9c4c"/>
<circle cx="418.6" cy="121.7" r="2.8" fill="#4a9c4c"/>
<circle cx="435.3" cy="74.2" r="2.8" fill="#4a9c4c"/>
<circle cx="431.9" cy="78.5" r="2.8" fill="#4a9c4c"/>
<circle cx="437.9" cy="81.5" r="2.8" fill="#4a9c4c"/>
<circle cx="437.5" cy="86.2" r="2.8" fill="#4a9c4c"/>
<circle cx="422.0" cy="89.2" r="2.8" fill="#4a9c4c"/>
<circle cx="430.2" cy="95.1" r="2.8" fill="#4a9c4c"/>
<circle cx="410.4" cy="103.6" r="2.8" fill="#4a9c4c"/>
<circle cx="414.7" cy="106.2" r="2.8" fill="#4a9c4c"/>
<circle cx="419.0" cy="104.1" r="2.8" fill="#4a9c4c"/>
<circle cx="410.4" cy="107.1" r="2.8" fill="#4a9c4c"/>
<circle cx="429.3" cy="114.8" r="2.8" fill="#4a9c4c"/>
<circle cx="420.7" cy="116.9" r="2.8" fill="#4a9c4c"/>
<circle cx="418.6" cy="124.2" r="2.8" fill="#4a9c4c"/>
<circle cx="431.5" cy="83.7" r="2.8" fill="#333376"/>
<circle cx="428.5" cy="88.0" r="2.8" fill="#333376"/>
<circle cx="435.3" cy="90.1" r="2.8" fill="#333376"/>
<circle cx="440.5" cy="91.8" r="2.8" fill="#333376"/>
<circle cx="419.9" cy="92.7" r="2.8" fill="#333376"/>
<circle cx="420.3" cy="95.1" r="2.8" fill="#333376"/>
<circle cx="430.2" cy="101.9" r="2.8" fill="#333376"/>
<circle cx="425.5" cy="105.8" r="2.8" fill="#333376"/>
<circle cx="430.2" cy="106.6" r="2.8" fill="#333376"/>
<circle cx="429.7" cy="120.0" r="2.8" fill="#333376"/>
<circle cx="424.2" cy="120.4" r="2.8" fill="#333376"/>
<circle cx="423.7" cy="123.4" r="2.8" fill="#333376"/>
<circle cx="421.1" cy="138.4" r="2.8" fill="#333376"/>
<circle cx="434.9" cy="104.1" r="2.8" fill="#333376"/>
<circle cx="428.5" cy="110.9" r="2.8" fill="#333376"/>
<circle cx="434.9" cy="117.4" r="2.8" fill="#333376"/>
<circle cx="429.7" cy="127.7" r="2.8" fill="#333376"/>
<circle cx="437.5" cy="136.1" r="2.8" fill="#333376"/>
<circle cx="443.0" cy="143.4" r="2.8" fill="#333376"/>
<circle cx="443.5" cy="152.8" r="2.8" fill="#333376"/>
<circle cx="441.4" cy="209.0" r="2.8" fill="#333376"/>
<circle cx="443.4" cy="97.6" r="2.8" fill="#333376"/>
<circle cx="443.4" cy="102.8" r="2.8" fill="#333376"/>
<circle cx="443.5" cy="106.2" r="2.8" fill="#333376"/>
<circle cx="436.2" cy="123.0" r="2.8" fill="#333376"/>
<circle cx="443.9" cy="135.2" r="2.8" fill="#333376"/>
<circle cx="452.5" cy="137.4" r="2.8" fill="#333376"/>
<circle cx="457.6" cy="135.2" r="2.8" fill="#333376"/>
<circle cx="434.4" cy="145.5" r="2.8" fill="#333376"/>
<circle cx="429.3" cy="157.5" r="2.8" fill="#333376"/>
<circle cx="440.0" cy="158.4" r="2.8" fill="#333376"/>
<circle cx="440.0" cy="109.6" r="2.8" fill="#333376"/>
<circle cx="443.9" cy="113.5" r="2.8" fill="#333376"/>
<circle cx="439.1" cy="114.8" r="2.8" fill="#333376"/>
<circle cx="448.1" cy="117.3" r="2.8" fill="#333376"/>
<circle cx="443.0" cy="118.6" r="2.8" fill="#333376"/>
<circle cx="453.7" cy="122.5" r="2.8" fill="#333376"/>
<circle cx="438.3" cy="122.5" r="2.8" fill="#333376"/>
<circle cx="443.0" cy="124.2" r="2.8" fill="#333376"/>
<circle cx="448.1" cy="127.6" r="2.8" fill="#333376"/>
<circle cx="438.7" cy="130.2" r="2.8" fill="#333376"/>
<circle cx="448.1" cy="131.1" r="2.8" fill="#333376"/>
<circle cx="443.3" cy="129.6" r="2.8" fill="#333376"/>
<circle cx="425.9" cy="133.5" r="2.8" fill="#333376"/>
<circle cx="422.9" cy="139.1" r="2.8" fill="#333376"/>
<circle cx="429.7" cy="129.6" r="2.8" fill="#333376"/>
<circle cx="440.9" cy="141.2" r="2.8" fill="#333376"/>
<circle cx="451.7" cy="146.9" r="2.8" fill="#333376"/>
<circle cx="453.9" cy="159.8" r="2.8" fill="#333376"/>
<circle cx="449.0" cy="108.8" r="2.8" fill="#333376"/>
<circle cx="454.6" cy="108.8" r="2.8" fill="#333376"/>
<circle cx="449.0" cy="112.6" r="2.8" fill="#333376"/>
<circle cx="446.9" cy="170.3" r="2.8" fill="#333376"/>
<circle cx="446.9" cy="160.1" r="2.8" fill="#333376"/>
<circle cx="443.9" cy="165.3" r="2.8" fill="#333376"/>
<circle cx="443.0" cy="168.2" r="2.8" fill="#333376"/>
<circle cx="448.7" cy="143.1" r="2.8" fill="#333376"/>
<circle cx="453.9" cy="149.9" r="2.8" fill="#333376"/>
<circle cx="448.7" cy="150.4" r="2.8" fill="#333376"/>
<circle cx="450.9" cy="155.1" r="2.8" fill="#333376"/>
<circle cx="448.3" cy="159.8" r="2.8" fill="#333376"/>
<circle cx="454.3" cy="165.0" r="2.8" fill="#333376"/>
<circle cx="448.3" cy="165.8" r="2.8" fill="#333376"/>
<circle cx="448.7" cy="171.0" r="2.8" fill="#333376"/>
<circle cx="449.2" cy="177.2" r="2.8" fill="#333376"/>
<circle cx="452.6" cy="175.1" r="2.8" fill="#333376"/>
<circle cx="447.0" cy="180.6" r="2.8" fill="#333376"/>
<circle cx="443.6" cy="184.5" r="2.8" fill="#333376"/>
<circle cx="450.5" cy="182.8" r="2.8" fill="#333376"/>
<circle cx="457.8" cy="182.8" r="2.8" fill="#333376"/>
<circle cx="449.2" cy="186.2" r="2.8" fill="#333376"/>
<circle cx="453.9" cy="187.9" r="2.8" fill="#333376"/>
<circle cx="457.8" cy="190.1" r="2.8" fill="#333376"/>
<circle cx="446.2" cy="191.8" r="2.8" fill="#333376"/>
<circle cx="438.4" cy="194.8" r="2.8" fill="#333376"/>
<circle cx="460.3" cy="194.4" r="2.8" fill="#333376"/>
<circle cx="448.7" cy="179.4" r="2.8" fill="#333376"/>
<circle cx="443.5" cy="85.4" r="2.8" fill="#333376"/>
<circle cx="454.7" cy="168.8" r="2.8" fill="#333376"/>
<circle cx="460.3" cy="150.8" r="2.8" fill="#333376"/>
<circle cx="460.3" cy="160.7" r="2.8" fill="#333376"/>
<circle cx="469.7" cy="151.2" r="2.8" fill="#333376"/>
<circle cx="454.7" cy="178.9" r="2.8" fill="#333376"/>
<circle cx="458.2" cy="176.8" r="2.8" fill="#333376"/>
<circle cx="450.9" cy="195.7" r="2.8" fill="#333376"/>
<circle cx="455.2" cy="195.2" r="2.8" fill="#333376"/>
<circle cx="457.3" cy="197.8" r="2.8" fill="#333376"/>
<circle cx="464.6" cy="205.5" r="2.8" fill="#333376"/>
<circle cx="468.4" cy="179.7" r="2.8" fill="#333376"/>
<circle cx="471.0" cy="193.4" r="2.8" fill="#333376"/>
<circle cx="464.6" cy="165.1" r="2.8" fill="#333376"/>
<circle cx="467.2" cy="155.1" r="2.8" fill="#333376"/>
<circle cx="471.0" cy="158.5" r="2.8" fill="#333376"/>
<circle cx="466.3" cy="160.2" r="2.8" fill="#333376"/>
<circle cx="470.2" cy="163.7" r="2.8" fill="#333376"/>
<circle cx="453.5" cy="204.2" r="2.8" fill="#333376"/>
<circle cx="468.9" cy="168.5" r="2.8" fill="#333376"/>
<circle cx="472.3" cy="169.4" r="2.8" fill="#333376"/>
<circle cx="477.5" cy="167.6" r="2.8" fill="#333376"/>
<circle cx="463.3" cy="170.6" r="2.8" fill="#333376"/>
<circle cx="468.0" cy="175.4" r="2.8" fill="#333376"/>
<circle cx="463.3" cy="175.8" r="2.8" fill="#333376"/>
<circle cx="484.7" cy="180.1" r="2.8" fill="#333376"/>
<circle cx="465.9" cy="184.8" r="2.8" fill="#333376"/>
<circle cx="477.0" cy="186.5" r="2.8" fill="#333376"/>
<circle cx="462.9" cy="190.0" r="2.8" fill="#333376"/>
<circle cx="470.2" cy="190.0" r="2.8" fill="#333376"/>
<circle cx="464.1" cy="197.2" r="2.8" fill="#333376"/>
<circle cx="478.3" cy="198.5" r="2.8" fill="#333376"/>
<circle cx="464.1" cy="202.0" r="2.8" fill="#333376"/>
</g>
<rect x="40.4" y="53.9" width="30.2" height="112.3" fill="#fff" stroke="#2a2a2a" stroke-width="1.25"/>
<text x="42.2" y="61.70" font-family="Liberation Sans, sans-serif" font-size="7" textLength="17.6" lengthAdjust="spacingAndGlyphs" fill="#222" stroke="#222" stroke-width="0.12">Day 1</text>
<circle cx="67.2" cy="59.20" r="1.6" fill="#d5e3f2" stroke="#1a1a1a" stroke-width="1.35"/>
<text x="42.2" y="69.52" font-family="Liberation Sans, sans-serif" font-size="7" textLength="17.6" lengthAdjust="spacingAndGlyphs" fill="#222" stroke="#222" stroke-width="0.12">Day 4</text>
<circle cx="67.2" cy="67.02" r="1.6" fill="#3f8cc3" stroke="#1a1a1a" stroke-width="1.35"/>
<text x="42.2" y="77.34" font-family="Liberation Sans, sans-serif" font-size="7" textLength="17.6" lengthAdjust="spacingAndGlyphs" fill="#222" stroke="#222" stroke-width="0.12">Day 8</text>
<circle cx="67.2" cy="74.84" r="1.6" fill="#a9cfb5" stroke="#1a1a1a" stroke-width="1.35"/>
<text x="42.2" y="85.16" font-family="Liberation Sans, sans-serif" font-size="7" textLength="21.3" lengthAdjust="spacingAndGlyphs" fill="#222" stroke="#222" stroke-width="0.12">Day 11</text>
<circle cx="67.2" cy="82.66" r="1.6" fill="#a8d49c" stroke="#1a1a1a" stroke-width="1.35"/>
<text x="42.2" y="92.98" font-family="Liberation Sans, sans-serif" font-size="7" textLength="21.3" lengthAdjust="spacingAndGlyphs" fill="#222" stroke="#222" stroke-width="0.12">Day 15</text>
<circle cx="67.2" cy="90.48" r="1.6" fill="#6aa85e" stroke="#1a1a1a" stroke-width="1.35"/>
<text x="42.2" y="100.80" font-family="Liberation Sans, sans-serif" font-size="7" textLength="21.3" lengthAdjust="spacingAndGlyphs" fill="#222" stroke="#222" stroke-width="0.12">Day 18</text>
<circle cx="67.2" cy="98.30" r="1.6" fill="#e4a0a8" stroke="#1a1a1a" stroke-width="1.35"/>
<text x="42.2" y="108.62" font-family="Liberation Sans, sans-serif" font-size="7" textLength="21.3" lengthAdjust="spacingAndGlyphs" fill="#222" stroke="#222" stroke-width="0.12">Day 22</text>
<circle cx="67.2" cy="106.12" r="1.6" fill="#c8402c" stroke="#1a1a1a" stroke-width="1.35"/>
<text x="42.2" y="116.44" font-family="Liberation Sans, sans-serif" font-size="7" textLength="21.3" lengthAdjust="spacingAndGlyphs" fill="#222" stroke="#222" stroke-width="0.12">Day 25</text>
<circle cx="67.2" cy="113.94" r="1.6" fill="#ecc8a4" stroke="#1a1a1a" stroke-width="1.35"/>
<text x="42.2" y="124.26" font-family="Liberation Sans, sans-serif" font-size="7" textLength="21.3" lengthAdjust="spacingAndGlyphs" fill="#222" stroke="#222" stroke-width="0.12">Day 29</text>
<circle cx="67.2" cy="121.76" r="1.6" fill="#e4982c" stroke="#1a1a1a" stroke-width="1.35"/>
<text x="42.2" y="132.08" font-family="Liberation Sans, sans-serif" font-size="7" textLength="21.3" lengthAdjust="spacingAndGlyphs" fill="#222" stroke="#222" stroke-width="0.12">Day 32</text>
<circle cx="67.2" cy="129.58" r="1.6" fill="#e0b080" stroke="#1a1a1a" stroke-width="1.35"/>
<text x="42.2" y="139.90" font-family="Liberation Sans, sans-serif" font-size="7" textLength="21.3" lengthAdjust="spacingAndGlyphs" fill="#222" stroke="#222" stroke-width="0.12">Day 36</text>
<circle cx="67.2" cy="137.40" r="1.6" fill="#a898cc" stroke="#1a1a1a" stroke-width="1.35"/>
<text x="42.2" y="147.72" font-family="Liberation Sans, sans-serif" font-size="7" textLength="21.3" lengthAdjust="spacingAndGlyphs" fill="#222" stroke="#222" stroke-width="0.12">Day 38</text>
<circle cx="67.2" cy="145.22" r="1.6" fill="#8a8a9a" stroke="#1a1a1a" stroke-width="1.35"/>
<text x="42.2" y="155.54" font-family="Liberation Sans, sans-serif" font-size="7" textLength="21.3" lengthAdjust="spacingAndGlyphs" fill="#222" stroke="#222" stroke-width="0.12">Day 43</text>
<circle cx="67.2" cy="153.04" r="1.6" fill="#f4eea8" stroke="#1a1a1a" stroke-width="1.35"/>
<text x="42.2" y="163.36" font-family="Liberation Sans, sans-serif" font-size="7" textLength="21.3" lengthAdjust="spacingAndGlyphs" fill="#222" stroke="#222" stroke-width="0.12">Day 46</text>
<circle cx="67.2" cy="160.86" r="1.6" fill="#c8744c" stroke="#1a1a1a" stroke-width="1.35"/>
<rect x="307.4" y="53.9" width="42.7" height="29.0" fill="#fff" stroke="#2a2a2a" stroke-width="1.25"/>
<text x="312.5" y="63.30" font-family="Liberation Sans, sans-serif" font-size="6.9" textLength="24.4" lengthAdjust="spacingAndGlyphs" fill="#222" stroke="#222" stroke-width="0.12">Phase 1</text>
<circle cx="342.9" cy="60.80" r="1.6" fill="#bf3d2a" stroke="#1a1a1a" stroke-width="1.35"/>
<text x="312.5" y="70.80" font-family="Liberation Sans, sans-serif" font-size="6.9" textLength="24.4" lengthAdjust="spacingAndGlyphs" fill="#222" stroke="#222" stroke-width="0.12">Phase 2</text>
<circle cx="342.9" cy="68.30" r="1.6" fill="#4a9c4c" stroke="#1a1a1a" stroke-width="1.35"/>
<text x="312.5" y="78.30" font-family="Liberation Sans, sans-serif" font-size="6.9" textLength="24.4" lengthAdjust="spacingAndGlyphs" fill="#222" stroke="#222" stroke-width="0.12">Phase 3</text>
<circle cx="342.9" cy="75.80" r="1.6" fill="#333376" stroke="#1a1a1a" stroke-width="1.35"/>
<g stroke="#1a1a1a" stroke-width="1.1">
<circle cx="43.0" cy="414.8" r="2.9" fill="#d25c38"/>
<circle cx="43.0" cy="418.0" r="2.9" fill="#d25c38"/>
<circle cx="43.0" cy="421.1" r="2.9" fill="#d25c38"/>
<circle cx="43.0" cy="424.3" r="2.9" fill="#d25c38"/>
<circle cx="54.9" cy="402.4" r="2.9" fill="#d25c38"/>
<circle cx="54.9" cy="405.1" r="2.9" fill="#d25c38"/>
<circle cx="54.9" cy="407.8" r="2.9" fill="#d25c38"/>
<circle cx="54.9" cy="410.5" r="2.9" fill="#d25c38"/>
<circle cx="71.3" cy="385.9" r="2.9" fill="#d25c38"/>
<circle cx="71.3" cy="389.1" r="2.9" fill="#d25c38"/>
<circle cx="71.3" cy="392.3" r="2.9" fill="#d25c38"/>
<circle cx="71.3" cy="395.5" r="2.9" fill="#d25c38"/>
<circle cx="71.3" cy="398.7" r="2.9" fill="#d25c38"/>
<circle cx="84.0" cy="377.5" r="2.9" fill="#4f9c54"/>
<circle cx="84.0" cy="380.7" r="2.9" fill="#4f9c54"/>
<circle cx="84.0" cy="383.9" r="2.9" fill="#4f9c54"/>
<circle cx="84.0" cy="387.0" r="2.9" fill="#4f9c54"/>
<circle cx="84.0" cy="390.2" r="2.9" fill="#4f9c54"/>
<circle cx="84.0" cy="393.4" r="2.9" fill="#4f9c54"/>
<circle cx="100.5" cy="362.6" r="2.9" fill="#4f9c54"/>
<circle cx="100.5" cy="365.7" r="2.9" fill="#4f9c54"/>
<circle cx="100.5" cy="368.9" r="2.9" fill="#4f9c54"/>
<circle cx="100.5" cy="372.0" r="2.9" fill="#4f9c54"/>
<circle cx="100.5" cy="375.1" r="2.9" fill="#4f9c54"/>
<circle cx="100.5" cy="378.2" r="2.9" fill="#4f9c54"/>
<circle cx="100.5" cy="381.4" r="2.9" fill="#4f9c54"/>
<circle cx="100.5" cy="384.5" r="2.9" fill="#4f9c54"/>
<circle cx="113.4" cy="357.3" r="2.9" fill="#4f9c54"/>
<circle cx="113.4" cy="360.6" r="2.9" fill="#4f9c54"/>
<circle cx="113.4" cy="364.0" r="2.9" fill="#4f9c54"/>
<circle cx="113.4" cy="367.3" r="2.9" fill="#4f9c54"/>
<circle cx="113.4" cy="370.7" r="2.9" fill="#4f9c54"/>
<circle cx="113.4" cy="374.0" r="2.9" fill="#4f9c54"/>
<circle cx="113.4" cy="377.4" r="2.9" fill="#4f9c54"/>
<circle cx="113.4" cy="380.7" r="2.9" fill="#4f9c54"/>
<circle cx="130.0" cy="349.1" r="2.9" fill="#333378"/>
<circle cx="130.0" cy="352.2" r="2.9" fill="#333378"/>
<circle cx="130.0" cy="355.3" r="2.9" fill="#333378"/>
<circle cx="130.0" cy="358.4" r="2.9" fill="#333378"/>
<circle cx="130.0" cy="361.6" r="2.9" fill="#333378"/>
<circle cx="130.0" cy="364.7" r="2.9" fill="#333378"/>
<circle cx="130.0" cy="367.8" r="2.9" fill="#333378"/>
<circle cx="130.0" cy="370.9" r="2.9" fill="#333378"/>
<circle cx="130.0" cy="374.0" r="2.9" fill="#333378"/>
<circle cx="141.6" cy="338.6" r="2.9" fill="#333378"/>
<circle cx="141.6" cy="341.8" r="2.9" fill="#333378"/>
<circle cx="141.6" cy="344.9" r="2.9" fill="#333378"/>
<circle cx="141.6" cy="348.1" r="2.9" fill="#333378"/>
<circle cx="141.6" cy="351.3" r="2.9" fill="#333378"/>
<circle cx="141.6" cy="354.5" r="2.9" fill="#333378"/>
<circle cx="141.6" cy="357.6" r="2.9" fill="#333378"/>
<circle cx="141.6" cy="360.8" r="2.9" fill="#333378"/>
<circle cx="141.6" cy="364.0" r="2.9" fill="#333378"/>
<circle cx="141.6" cy="367.1" r="2.9" fill="#333378"/>
<circle cx="141.6" cy="370.3" r="2.9" fill="#333378"/>
<circle cx="158.3" cy="339.1" r="2.9" fill="#333378"/>
<circle cx="158.3" cy="342.1" r="2.9" fill="#333378"/>
<circle cx="158.3" cy="345.1" r="2.9" fill="#333378"/>
<circle cx="158.3" cy="348.1" r="2.9" fill="#333378"/>
<circle cx="158.3" cy="351.1" r="2.9" fill="#333378"/>
<circle cx="158.3" cy="354.1" r="2.9" fill="#333378"/>
<circle cx="158.3" cy="357.1" r="2.9" fill="#333378"/>
<circle cx="158.3" cy="360.1" r="2.9" fill="#333378"/>
<circle cx="158.3" cy="363.1" r="2.9" fill="#333378"/>
<circle cx="158.3" cy="370.4" r="2.9" fill="#333378"/>
<circle cx="170.8" cy="323.9" r="2.9" fill="#333378"/>
<circle cx="170.8" cy="327.3" r="2.9" fill="#333378"/>
<circle cx="170.8" cy="330.6" r="2.9" fill="#333378"/>
<circle cx="170.8" cy="334.0" r="2.9" fill="#333378"/>
<circle cx="170.8" cy="337.4" r="2.9" fill="#333378"/>
<circle cx="170.8" cy="340.7" r="2.9" fill="#333378"/>
<circle cx="170.8" cy="344.1" r="2.9" fill="#333378"/>
<circle cx="170.8" cy="360.3" r="2.9" fill="#333378"/>
<circle cx="170.8" cy="363.5" r="2.9" fill="#333378"/>
<circle cx="170.8" cy="366.7" r="2.9" fill="#333378"/>
<circle cx="187.7" cy="319.6" r="2.9" fill="#333378"/>
<circle cx="187.7" cy="322.7" r="2.9" fill="#333378"/>
<circle cx="187.7" cy="325.7" r="2.9" fill="#333378"/>
<circle cx="187.7" cy="328.8" r="2.9" fill="#333378"/>
<circle cx="187.7" cy="331.9" r="2.9" fill="#333378"/>
<circle cx="187.7" cy="334.9" r="2.9" fill="#333378"/>
<circle cx="187.7" cy="338.0" r="2.9" fill="#333378"/>
<circle cx="187.7" cy="341.0" r="2.9" fill="#333378"/>
<circle cx="187.7" cy="344.1" r="2.9" fill="#333378"/>
<circle cx="187.7" cy="355.3" r="2.9" fill="#333378"/>
<circle cx="187.7" cy="362.8" r="2.9" fill="#333378"/>
<circle cx="195.8" cy="318.6" r="2.9" fill="#333378"/>
<circle cx="195.8" cy="322.1" r="2.9" fill="#333378"/>
<circle cx="195.8" cy="325.6" r="2.9" fill="#333378"/>
<circle cx="195.8" cy="329.0" r="2.9" fill="#333378"/>
<circle cx="195.8" cy="332.5" r="2.9" fill="#333378"/>
<circle cx="195.8" cy="342.2" r="2.9" fill="#333378"/>
<circle cx="195.8" cy="346.7" r="2.9" fill="#333378"/>
<circle cx="195.8" cy="356.3" r="2.9" fill="#333378"/>
<circle cx="195.8" cy="359.6" r="2.9" fill="#333378"/>
<circle cx="216.3" cy="315.6" r="2.9" fill="#333378"/>
<circle cx="216.3" cy="318.7" r="2.9" fill="#333378"/>
<circle cx="216.3" cy="321.9" r="2.9" fill="#333378"/>
<circle cx="216.3" cy="325.0" r="2.9" fill="#333378"/>
<circle cx="216.3" cy="328.1" r="2.9" fill="#333378"/>
<circle cx="216.3" cy="331.3" r="2.9" fill="#333378"/>
<circle cx="216.3" cy="334.4" r="2.9" fill="#333378"/>
<circle cx="216.3" cy="337.6" r="2.9" fill="#333378"/>
<circle cx="216.3" cy="340.7" r="2.9" fill="#333378"/>
<circle cx="216.3" cy="349.8" r="2.9" fill="#333378"/>
<circle cx="216.3" cy="354.5" r="2.9" fill="#333378"/>
<circle cx="228.7" cy="311.9" r="2.9" fill="#333378"/>
<circle cx="228.7" cy="320.3" r="2.9" fill="#333378"/>
<circle cx="228.7" cy="323.3" r="2.9" fill="#333378"/>
<circle cx="228.7" cy="326.4" r="2.9" fill="#333378"/>
<circle cx="228.7" cy="329.4" r="2.9" fill="#333378"/>
<circle cx="228.7" cy="332.4" r="2.9" fill="#333378"/>
<circle cx="228.7" cy="335.4" r="2.9" fill="#333378"/>
<circle cx="228.7" cy="338.5" r="2.9" fill="#333378"/>
<circle cx="228.7" cy="341.5" r="2.9" fill="#333378"/>
<circle cx="228.7" cy="348.6" r="2.9" fill="#333378"/>
<circle cx="340.1" cy="385.8" r="2.9" fill="#d25c38"/>
<circle cx="340.1" cy="389.0" r="2.9" fill="#d25c38"/>
<circle cx="340.1" cy="392.1" r="2.9" fill="#d25c38"/>
<circle cx="340.1" cy="395.3" r="2.9" fill="#d25c38"/>
<circle cx="340.1" cy="398.4" r="2.9" fill="#d25c38"/>
<circle cx="340.1" cy="401.6" r="2.9" fill="#d25c38"/>
<circle cx="340.1" cy="404.8" r="2.9" fill="#d25c38"/>
<circle cx="340.1" cy="407.9" r="2.9" fill="#d25c38"/>
<circle cx="340.1" cy="411.1" r="2.9" fill="#d25c38"/>
<circle cx="340.1" cy="414.2" r="2.9" fill="#d25c38"/>
<circle cx="340.1" cy="417.4" r="2.9" fill="#d25c38"/>
<circle cx="340.1" cy="420.5" r="2.9" fill="#d25c38"/>
<circle cx="340.1" cy="423.7" r="2.9" fill="#d25c38"/>
<circle cx="408.3" cy="357.4" r="2.9" fill="#4f9c54"/>
<circle cx="408.3" cy="360.5" r="2.9" fill="#4f9c54"/>
<circle cx="408.3" cy="363.7" r="2.9" fill="#4f9c54"/>
<circle cx="408.3" cy="366.8" r="2.9" fill="#4f9c54"/>
<circle cx="408.3" cy="370.0" r="2.9" fill="#4f9c54"/>
<circle cx="408.3" cy="373.1" r="2.9" fill="#4f9c54"/>
<circle cx="408.3" cy="376.3" r="2.9" fill="#4f9c54"/>
<circle cx="408.3" cy="379.4" r="2.9" fill="#4f9c54"/>
<circle cx="408.3" cy="382.6" r="2.9" fill="#4f9c54"/>
<circle cx="408.3" cy="385.7" r="2.9" fill="#4f9c54"/>
<circle cx="408.3" cy="388.9" r="2.9" fill="#4f9c54"/>
<circle cx="408.3" cy="392.0" r="2.9" fill="#4f9c54"/>
<circle cx="477.8" cy="312.2" r="2.9" fill="#333378"/>
<circle cx="477.8" cy="315.4" r="2.9" fill="#333378"/>
<circle cx="477.8" cy="318.7" r="2.9" fill="#333378"/>
<circle cx="477.8" cy="321.9" r="2.9" fill="#333378"/>
<circle cx="477.8" cy="325.2" r="2.9" fill="#333378"/>
<circle cx="477.8" cy="328.4" r="2.9" fill="#333378"/>
<circle cx="477.8" cy="331.7" r="2.9" fill="#333378"/>
<circle cx="477.8" cy="334.9" r="2.9" fill="#333378"/>
<circle cx="477.8" cy="338.1" r="2.9" fill="#333378"/>
<circle cx="477.8" cy="341.4" r="2.9" fill="#333378"/>
<circle cx="477.8" cy="344.6" r="2.9" fill="#333378"/>
<circle cx="477.8" cy="347.9" r="2.9" fill="#333378"/>
<circle cx="477.8" cy="351.1" r="2.9" fill="#333378"/>
<circle cx="477.8" cy="354.3" r="2.9" fill="#333378"/>
<circle cx="477.8" cy="357.6" r="2.9" fill="#333378"/>
<circle cx="477.8" cy="360.8" r="2.9" fill="#333378"/>
<circle cx="477.8" cy="364.1" r="2.9" fill="#333378"/>
<circle cx="477.8" cy="367.3" r="2.9" fill="#333378"/>
<circle cx="477.8" cy="370.6" r="2.9" fill="#333378"/>
<circle cx="477.8" cy="373.8" r="2.9" fill="#333378"/>
</g>
</svg>
</body></html>
